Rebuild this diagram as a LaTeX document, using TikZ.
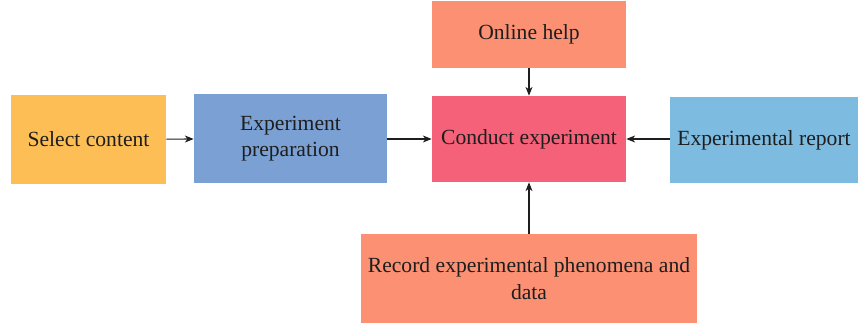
\documentclass[tikz,border=0pt]{standalone}
\usepackage{fontspec}
\setmainfont{Liberation Serif}
\usetikzlibrary{arrows.meta}

\definecolor{selyellow}{HTML}{FDBF55}
\definecolor{prepblue}{HTML}{7BA0D4}
\definecolor{helpsalmon}{HTML}{FB9073}
\definecolor{conductpink}{HTML}{F46178}
\definecolor{reportblue}{HTML}{7DBBE0}
\definecolor{txtgray}{HTML}{1E1E1E}

\tikzset{
    stagebox/.style={inner sep=0pt, align=center, text=txtgray,
        font=\fontsize{12.3}{15}\selectfont},
    link/.style={draw=txtgray, line width=0.6pt, -{Stealth[length=5pt,width=4pt,inset=1.5pt]}}
}

\begin{document}
\begin{tikzpicture}[x=0.02cm, y=-0.02cm]
        \useasboundingbox (0,0) rectangle (858,328);
        
        \node[stagebox, fill=selyellow, minimum width=3.1cm, minimum height=1.78cm] (sel) at (88.5,139.5) {Select content};
        \node[stagebox, fill=prepblue, minimum width=3.86cm, minimum height=1.78cm] (prep) at (290.5,138.5) {Experiment\\preparation};
        \node[stagebox, fill=helpsalmon, minimum width=3.88cm, minimum height=1.34cm] (help) at (529,34.5) {Online help};
        \node[stagebox, fill=conductpink, minimum width=3.88cm, minimum height=1.72cm] (conduct) at (529,139) {Conduct experiment};
        \node[stagebox, fill=reportblue, minimum width=3.76cm, minimum height=1.72cm] (report) at (764,140) {Experimental report};
        \node[stagebox, fill=helpsalmon, minimum width=6.72cm, minimum height=1.78cm] (record) at (529,278.5) {Record experimental phenomena and\\data};
        
        \draw[link] (sel) -- (prep);
        \draw[link] (prep.east |- conduct.west) -- (conduct.west);
        \draw[link] (report.west |- conduct.east) -- (conduct.east);
        \draw[link] (help) -- (conduct);
        \draw[link] (record) -- (conduct);
    \end{tikzpicture}
\end{document}
